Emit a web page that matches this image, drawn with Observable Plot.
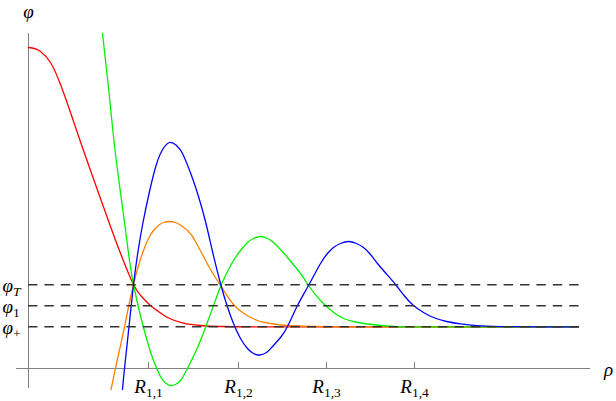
<!DOCTYPE html>
<html><head><meta charset="utf-8">
<script src="https://cdn.jsdelivr.net/npm/d3@7"></script>
<script src="https://cdn.jsdelivr.net/npm/@observablehq/plot@0.6"></script>
<style>body{margin:0;background:#fff;} svg{overflow:visible}</style>
</head><body><div id="chart"></div>
<script>
// ---- data (ρ, φ) ----
const redRho = [0, 0.3, 0.6, 1.1, 1.6, 2.1, 2.75, 3.35, 4.1, 4.7, 5.25, 5.65, 6.1, 6.5, 6.95, 7.75, 8.6, 9.6, 11.6, 14, 18, 22, 27.5];
const redPhi = [32.1, 32.0, 31.7, 30.6, 28.4, 25.6, 21.8, 18.4, 14.2, 11.0, 8.4, 7.2, 6.3, 5.7, 5.1, 4.53, 4.3, 4.2, 4.17, 4.17, 4.17, 4.17, 4.17];

const orangeRho = [4.125, 4.4, 4.7, 4.975, 5.25, 5.5, 5.75, 6.0, 6.25, 6.5, 6.75, 7.05, 7.35, 7.7, 8.05, 8.35, 8.7, 9.1, 9.6, 10.25, 10.85, 11.45, 12.1, 12.95, 14.1, 16.1, 19, 23, 27.5];
const orangePhi = [-2.1, 0.5, 3.2, 5.9, 8.4, 10.3, 11.8, 13.0, 13.8, 14.3, 14.6, 14.7, 14.6, 14.2, 13.6, 12.7, 11.4, 9.9, 8.3, 6.4, 5.4, 4.8, 4.5, 4.3, 4.2, 4.17, 4.17, 4.17, 4.17];

const greenRho = [3.7, 4.0, 4.3, 4.7, 5.05, 5.25, 5.5, 5.75, 6.0, 6.25, 6.6, 6.85, 7.1, 7.35, 7.6, 7.95, 8.45, 8.85, 9.25, 9.625, 9.95, 10.25, 10.6, 10.95, 11.25, 11.6, 11.95, 12.25, 12.6, 12.95, 13.6, 14.0, 14.6, 15.2, 15.75, 16.35, 16.95, 18.25, 20.1, 23, 27.5];
const greenPhi = [33.5, 28.1, 22.3, 16.1, 10.8, 8.4, 6.1, 4.1, 2.3, 0.8, -0.8, -1.45, -1.7, -1.6, -1.2, 0.0, 2.1, 4.1, 6.3, 8.3, 9.7, 10.8, 11.8, 12.6, 13.0, 13.2, 13.0, 12.6, 11.9, 11.1, 9.5, 8.3, 6.8, 5.7, 5.0, 4.65, 4.45, 4.2, 4.17, 4.17, 4.17];

const blueRho = [4.7, 4.8, 5.025, 5.25, 5.475, 5.725, 6.05, 6.35, 6.65, 7.05, 7.4, 7.7, 8.15, 8.5, 8.85, 9.2, 9.6, 9.925, 10.25, 10.6, 10.95, 11.25, 11.55, 11.9, 12.2, 12.6, 12.95, 13.45, 14.0, 14.6, 14.95, 15.25, 15.6, 16.0, 16.4, 16.75, 17.1, 17.45, 17.9, 18.35, 18.8, 19.25, 19.75, 20.25, 20.9, 21.6, 22.6, 24.1, 25.8, 27.5];
const bluePhi = [-2.1, 0, 4.2, 8.4, 11.7, 14.6, 17.7, 20.1, 21.7, 22.6, 22.3, 21.5, 19.3, 17.2, 14.7, 11.7, 8.5, 6.3, 4.5, 3.0, 2.0, 1.5, 1.35, 1.6, 2.2, 3.1, 4.2, 6.3, 8.3, 10.5, 11.5, 12.1, 12.5, 12.7, 12.5, 12.1, 11.4, 10.5, 9.45, 8.4, 7.25, 6.3, 5.6, 5.1, 4.7, 4.47, 4.27, 4.18, 4.17, 4.17];

const levelValues = [8.37, 6.27, 4.17];
const levelLabels = ["φ_{T}", "φ_{1}", "φ_{+}"];

const rTicks = [6.0, 10.5, 14.9, 19.3];
const rLabels = ["R_{1,1}", "R_{1,2}", "R_{1,3}", "R_{1,4}"];

const xAxisExtent = [-0.6, 28.1];
const yAxisExtent = [-2, 33.5];
const levelExtent = [0, 27.53];

const seriesNames = ["S1", "S2", "S3", "S4"];
const seriesColors = ["#ff0000", "#ff8000", "#00f000", "#0000ff"];
const seriesRho = [redRho, orangeRho, greenRho, blueRho];
const seriesPhi = [redPhi, orangePhi, greenPhi, bluePhi];

const rows = seriesNames.flatMap((s, k) => seriesRho[k].map((r, i) => ({series: s, rho: r, phi: seriesPhi[k][i]})));

const axisGray = "#808080";
const font = "'Liberation Serif', 'DejaVu Serif', serif";

const plot = Plot.plot({
  width: 616, height: 401,
  marginLeft: 28, marginRight: 28, marginTop: 33, marginBottom: 33,
  x: {domain: [0, 28], axis: null},
  y: {domain: [0, 33.5], axis: null},
  color: {domain: seriesNames, range: seriesColors},
  style: {fontFamily: font, background: "white", overflow: "visible"},
  marks: [
    Plot.ruleY([0], {x1: xAxisExtent[0], x2: xAxisExtent[1], stroke: axisGray, strokeWidth: 1}),
    Plot.ruleX([0], {y1: yAxisExtent[0], y2: yAxisExtent[1], stroke: axisGray, strokeWidth: 1}),
    Plot.ruleX(rTicks, {x: d => d, y1: 0, y2: 0.6, stroke: axisGray, strokeWidth: 1}),
    Plot.line(rows, {x: "rho", y: "phi", z: "series", stroke: "series", strokeWidth: 1.3, curve: "natural"}),
    Plot.ruleY(levelValues, {y: d => d, x1: levelExtent[0], x2: levelExtent[1], stroke: "#333", strokeWidth: 1.4, strokeDasharray: "9.4,7"}),
    Plot.text(rTicks, {x: d => d, frameAnchor: "bottom", dy: 24.7, text: (d, i) => rLabels[i], lineAnchor: "bottom", textAnchor: "middle", fontSize: 19, fontStyle: "italic", fill: "black"}),
    Plot.text(levelValues, {y: d => d, frameAnchor: "left", dx: -26, dy: 7, text: (d, i) => levelLabels[i], lineAnchor: "bottom", textAnchor: "start", fontSize: 19, fontStyle: "italic", fill: "black"}),
    Plot.text(["φ"], {frameAnchor: "top-left", dy: -16, text: d => d, lineAnchor: "bottom", textAnchor: "middle", fontSize: 19, fontStyle: "italic", fill: "black"}),
    Plot.text(["ρ"], {frameAnchor: "bottom-right", dx: 20, dy: 7, text: d => d, lineAnchor: "bottom", textAnchor: "middle", fontSize: 19, fontStyle: "italic", fill: "black"})
  ]
});

// subscripts: rebuild "base_{sub}" texts with tspans
d3.select(plot).selectAll("text").each(function () {
  const t = this.textContent;
  const m = /^(.*?)_\{(.*)\}$/.exec(t);
  if (!m) return;
  const sel = d3.select(this);
  sel.text(null);
  sel.append("tspan").text(m[1]);
  sel.append("tspan")
    .attr("dy", "4")
    .attr("font-size", "13.5")
    .attr("font-style", /[A-Za-z]/.test(m[2]) ? "italic" : "normal")
    .text(m[2]);
});

document.getElementById("chart").append(plot);
</script>
</body></html>
